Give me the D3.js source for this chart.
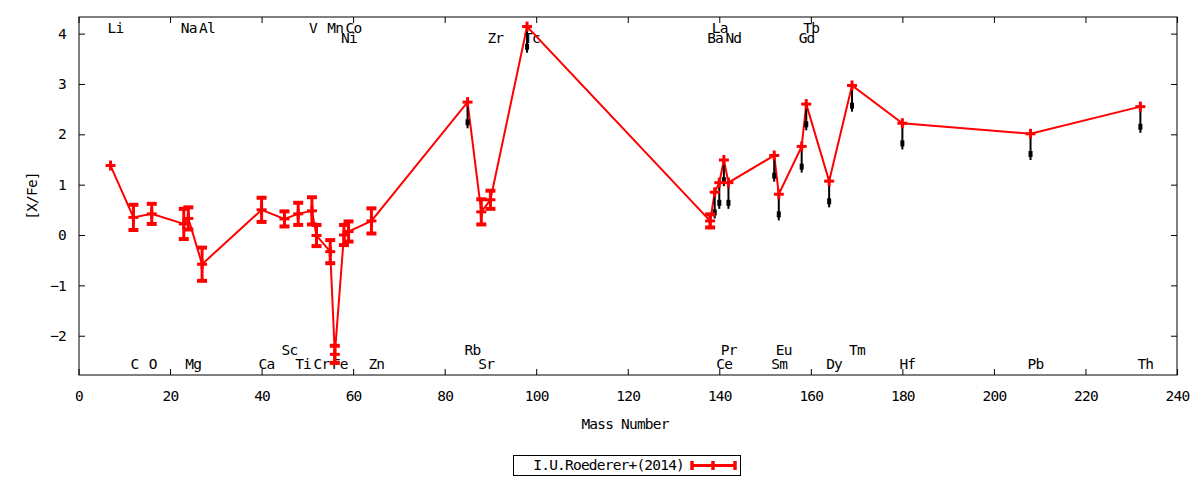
<!DOCTYPE html>
<html>
<head>
<meta charset="utf-8">
<script src="https://cdn.jsdelivr.net/npm/d3@7"></script>
<style>
  body { margin: 0; background: #fff; }
  svg text { font-family: "DejaVu Sans Mono", monospace; font-size: 14.5px; letter-spacing: -0.8px; fill: #000; }
</style>
</head>
<body>
<svg id="chart" width="1200" height="480"></svg>
<script>
// element, mass number and [X/Fe] abundances
var elements = ["Li","C","O","Na","Mg","Al","Ca","Sc","Ti","V","Cr","Mn","Fe","Ni","Co","Zn",
                "Rb","Sr","Zr","Tc","Ba","La","Ce","Pr","Nd","Sm","Eu","Gd","Tb","Dy","Tm","Hf","Pb","Th"]
var massNumber = [7,12,16,23,24,27,40,45,48,51,52,55,56,58,59,64,
                  85,88,90,98,138,139,140,141,142,152,153,158,159,164,169,180,208,232]
var xFe = [1.38,0.35,0.42,0.22,0.33,-0.58,0.50,0.32,0.42,0.48,-0.01,-0.33,-2.37,0.00,0.07,0.28,
           2.64,0.46,0.70,4.14,0.28,0.85,1.04,1.49,1.04,1.58,0.81,1.76,2.60,1.07,2.97,2.22,2.01,2.55]
var xFeErr = [0,0.25,0.20,0.30,0.22,0.33,0.24,0.15,0.22,0.27,0.21,0.23,0.17,0.20,0.20,0.25,
              0,0.25,0.18,0,0.13,0,0,0,0,0,0,0,0,0,0,0,0,0]
// 1 = upper limit (black arrow)
var upperLimit = [0,0,0,0,0,0,0,0,0,0,0,0,0,0,0,0,
                  1,0,0,1,0,1,1,1,1,1,1,1,1,1,1,1,1,1]
// where the element name goes: "t1","t2" top rows, "b1","b2" bottom rows
var labelRow = ["t1","b2","b2","t1","b2","t1","b2","b1","b2","t1","b2","t1","b2","t2","t1","b2",
                "b1","b2","t2","t2","t2","t1","b2","b1","t2","b2","b1","t2","t1","b2","b1","b2","b2","b2"]

var xTicks = d3.range(0, 241, 20)
var yTicks = [-2,-1,0,1,2,3,4]
var legendLabel = "I.U.Roederer+(2014)"
var limitLength = 0.52

var plotL = 79, plotR = 1177, plotT = 17, plotB = 375
var red = "#ff0000"

var svg = d3.select("#chart")

var x = d3.scaleLinear().domain([0, 240]).range([plotL - 0.5, plotR])
var y = d3.scaleLinear().domain([-2.78, 4.33]).range([plotB, plotT])

var data = elements.map(function(e, i) {
	return {name: e, mass: massNumber[i], v: xFe[i], err: xFeErr[i], ul: upperLimit[i], row: labelRow[i]}
})

// axes, ticks inward on all sides
svg.append("g")
	.attr("transform", "translate(0," + plotB + ")")
	.call(d3.axisBottom(x).tickValues(xTicks).tickSize(-6).tickPadding(16).tickFormat(d3.format("d")))
svg.append("g")
	.attr("transform", "translate(0," + plotT + ")")
	.call(d3.axisTop(x).tickValues(xTicks).tickSize(-6).tickFormat(""))
svg.append("g")
	.attr("transform", "translate(" + plotL + ",0)")
	.call(d3.axisLeft(y).tickValues(yTicks).tickSize(-6).tickPadding(13).tickFormat(d3.format("d")))
svg.append("g")
	.attr("transform", "translate(" + plotR + ",0)")
	.call(d3.axisRight(y).tickValues(yTicks).tickSize(-6).tickFormat(""))

svg.selectAll(".domain").remove()
svg.selectAll(".tick line").attr("stroke", "#000")
svg.selectAll(".tick text").attr("font-family", "DejaVu Sans Mono").attr("font-size", "14.5px")

svg.append("rect")
	.attr("x", plotL).attr("y", plotT)
	.attr("width", plotR - plotL).attr("height", plotB - plotT)
	.attr("fill", "none").attr("stroke", "#000").attr("stroke-width", 1)

// axis titles
svg.append("text")
	.attr("x", (plotL + plotR) / 2 - 3).attr("y", 429)
	.attr("text-anchor", "middle")
	.text("Mass Number")
svg.append("text")
	.attr("transform", "translate(37," + ((plotT + plotB) / 2) + ") rotate(-90)")
	.attr("text-anchor", "middle")
	.text("[X/Fe]")

// element names
var rowY = {t1: 33, t2: 43, b1: 355, b2: 369}
svg.selectAll(".elem")
	.data(data)
	.enter().append("text")
	.attr("class", "elem")
	.attr("x", function(d) { return x(d.mass) - 3 })
	.attr("y", function(d) { return rowY[d.row] })
	.text(function(d) { return d.name })

// connecting line
var line = d3.line()
	.x(function(d) { return x(d.mass) })
	.y(function(d) { return y(d.v) })
svg.append("path")
	.datum(data)
	.attr("d", line)
	.attr("fill", "none")
	.attr("stroke", red)
	.attr("stroke-width", 2)

// upper limit arrows
var limits = svg.selectAll(".limit")
	.data(data.filter(function(d) { return d.ul }))
	.enter().append("g")
	.attr("class", "limit")
limits.append("line")
	.attr("x1", function(d) { return x(d.mass) })
	.attr("x2", function(d) { return x(d.mass) })
	.attr("y1", function(d) { return y(d.v) })
	.attr("y2", function(d) { return y(d.v - limitLength) })
	.attr("stroke", "#000").attr("stroke-width", 2)
limits.append("rect")
	.attr("x", function(d) { return x(d.mass) - 2 })
	.attr("y", function(d) { return y(d.v - limitLength) - 9 })
	.attr("width", 4).attr("height", 6)
	.attr("fill", "#000")

// error bars
var bars = svg.selectAll(".bar")
	.data(data.filter(function(d) { return d.err > 0 }))
	.enter().append("g")
	.attr("class", "bar")
	.attr("stroke", red)
bars.append("line")
	.attr("x1", function(d) { return x(d.mass) })
	.attr("x2", function(d) { return x(d.mass) })
	.attr("y1", function(d) { return y(d.v + d.err) })
	.attr("y2", function(d) { return y(d.v - d.err) })
	.attr("stroke-width", 3)
bars.selectAll(".cap")
	.data(function(d) { return [[d.mass, d.v + d.err], [d.mass, d.v - d.err]] })
	.enter().append("line")
	.attr("x1", function(p) { return x(p[0]) - 5 })
	.attr("x2", function(p) { return x(p[0]) + 5 })
	.attr("y1", function(p) { return y(p[1]) })
	.attr("y2", function(p) { return y(p[1]) })
	.attr("stroke-width", 4)

// point markers (+)
var pts = svg.selectAll(".pt")
	.data(data)
	.enter().append("g")
	.attr("class", "pt")
	.attr("stroke", red)
	.attr("stroke-width", 3)
pts.append("line")
	.attr("x1", function(d) { return x(d.mass) - 5 })
	.attr("x2", function(d) { return x(d.mass) + 5 })
	.attr("y1", function(d) { return y(d.v) })
	.attr("y2", function(d) { return y(d.v) })
pts.append("line")
	.attr("x1", function(d) { return x(d.mass) })
	.attr("x2", function(d) { return x(d.mass) })
	.attr("y1", function(d) { return y(d.v) - 5 })
	.attr("y2", function(d) { return y(d.v) + 5 })

// legend
var legend = svg.append("g")
legend.append("rect")
	.attr("x", 513.5).attr("y", 455.5).attr("width", 227).attr("height", 20)
	.attr("fill", "none").attr("stroke", "#000")
legend.append("text")
	.attr("x", 684).attr("y", 470)
	.attr("text-anchor", "end")
	.text(legendLabel)
legend.append("line")
	.attr("x1", 692).attr("x2", 735).attr("y1", 465.5).attr("y2", 465.5)
	.attr("stroke", red).attr("stroke-width", 3)
legend.selectAll(".lcap")
	.data([692, 713, 735])
	.enter().append("line")
	.attr("x1", function(d) { return d }).attr("x2", function(d) { return d })
	.attr("y1", 461).attr("y2", 470)
	.attr("stroke", red).attr("stroke-width", 3.5)
</script>
</body>
</html>
